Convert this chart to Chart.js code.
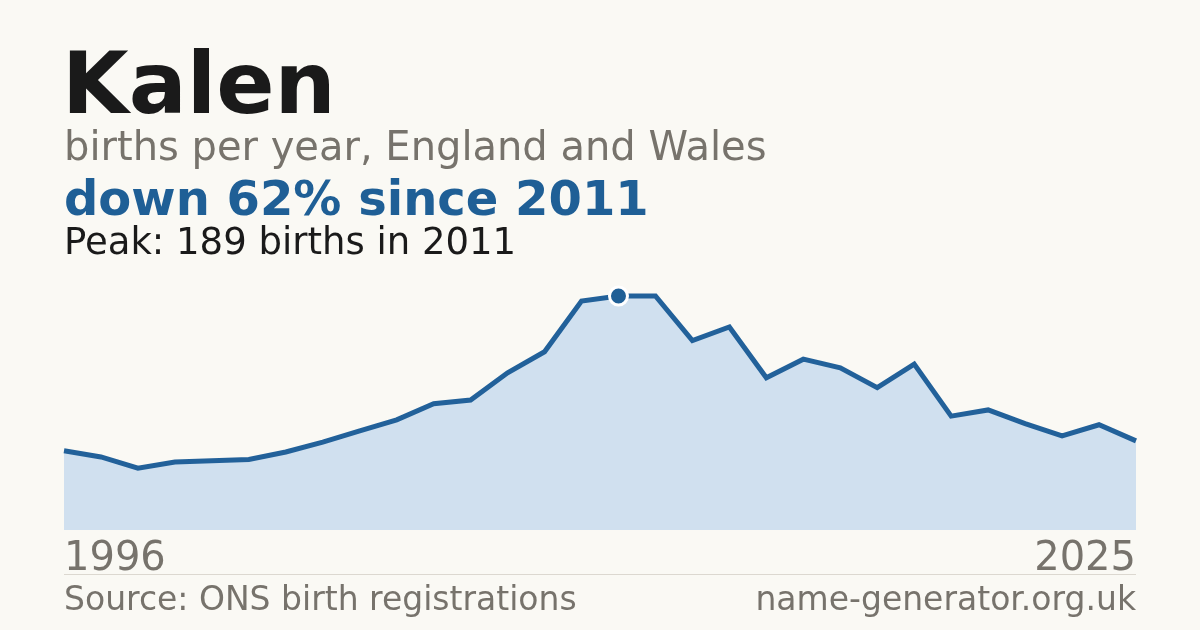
<!DOCTYPE html>
<html>
<head>
<meta charset="utf-8">
<script src="https://cdn.jsdelivr.net/npm/chart.js@4"></script>
<style>
  html, body { margin: 0; padding: 0; background: #faf9f4; }
  #wrap { width: 1200px; height: 630px; position: relative; }
</style>
</head>
<body>
<div id="wrap"><canvas id="chart" width="1200" height="630"></canvas></div>
<script>
const years = [1996, 1997, 1998, 1999, 2000, 2001, 2002, 2003, 2004, 2005,
  2006, 2007, 2008, 2009, 2010, 2011, 2012, 2013, 2014, 2015,
  2016, 2017, 2018, 2019, 2020, 2021, 2022, 2023, 2024, 2025];
const births = [64, 59, 50, 55, 56, 57, 63, 71, 80, 89,
  102, 105, 127, 144, 185, 189, 189, 153, 164, 123,
  138, 131, 115, 134, 92, 97, 86, 76, 85, 72];
const tickLabels = ['1996', '2025'];

const title = 'Kalen';
const subtitle = 'births per year, England and Wales';
const headline = 'down 62% since 2011';
const peakText = 'Peak: 189 births in 2011';
const sourceText = 'Source: ONS birth registrations';
const siteText = 'name-generator.org.uk';

const peakIndex = births.indexOf(Math.max(...births));

// текст і підписи малюємо прямо на канвасі
const textPlugin = {
  id: 'texts',
  afterDraw(chart) {
    const c = chart.ctx;
    const area = chart.chartArea;
    c.save();
    c.textBaseline = 'alphabetic';
    c.textAlign = 'left';

    c.fillStyle = '#1a1a1a';
    c.font = 'bold 86px "DejaVu Sans"';
    c.fillText(title, 62, 113);

    c.fillStyle = '#77736c';
    c.font = '40px "DejaVu Sans"';
    c.fillText(subtitle, 64, 160);

    c.fillStyle = '#1f5f96';
    c.font = 'bold 48px "DejaVu Sans"';
    c.fillText(headline, 64, 215);

    c.fillStyle = '#1a1a1a';
    c.font = '37px "DejaVu Sans"';
    c.fillText(peakText, 64, 254);

    c.fillStyle = '#77736c';
    c.font = '40px "DejaVu Sans"';
    c.fillText(tickLabels[0], area.left, 570);
    c.textAlign = 'right';
    c.fillText(tickLabels[1], area.right, 570);

    c.strokeStyle = '#dcd8d0';
    c.lineWidth = 1;
    c.beginPath();
    c.moveTo(area.left, 574.5);
    c.lineTo(area.right, 574.5);
    c.stroke();

    c.font = '33px "DejaVu Sans"';
    c.textAlign = 'left';
    c.fillText(sourceText, 64, 610);
    c.textAlign = 'right';
    c.fillText(siteText, area.right, 610);
    c.restore();
  }
};

new Chart(document.getElementById('chart'), {
  type: 'line',
  data: {
    labels: years,
    datasets: [{
      data: births,
      borderColor: '#22619a',
      borderWidth: 5,
      backgroundColor: '#d0e0ef',
      fill: 'origin',
      tension: 0,
      clip: false,
      pointRadius: ctx => ctx.dataIndex === peakIndex ? 9 : 0,
      pointBackgroundColor: '#1f5f96',
      pointBorderColor: '#ffffff',
      pointBorderWidth: 3,
      pointHoverRadius: 0
    }]
  },
  options: {
    responsive: false,
    animation: false,
    events: [],
    layout: { padding: { left: 64, right: 64, top: 282.4, bottom: 100 } },
    plugins: { legend: { display: false }, tooltip: { enabled: false } },
    scales: {
      x: { display: false, offset: false },
      y: { display: false, min: 0, max: 200 }
    }
  },
  plugins: [textPlugin]
});
</script>
</body>
</html>
